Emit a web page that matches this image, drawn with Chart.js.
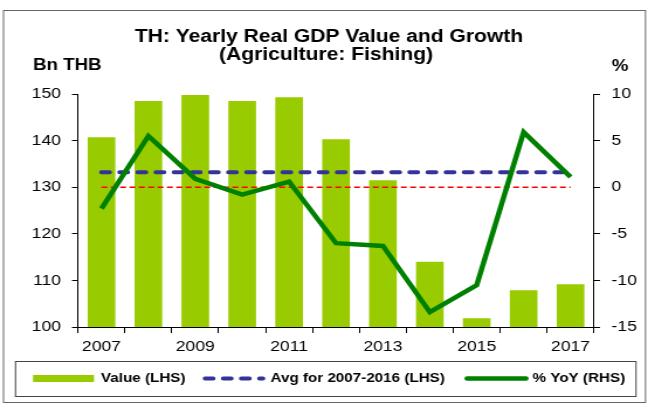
<!DOCTYPE html>
<html>
<head>
<meta charset="utf-8">
<script src="https://cdn.jsdelivr.net/npm/chart.js@4.4.1/dist/chart.umd.min.js"></script>
<style>
    html, body { margin: 0; padding: 0; background: #fff; }
    /* the source picture is stretched sideways, so the chart is drawn narrow and widened */
    #wrap { width: 554px; height: 403px; transform: scaleX(1.16968); transform-origin: 0 0; }
</style>
</head>
<body>
<div id="wrap"><canvas id="chart"></canvas></div>
<script>
const years = ['2007', '2008', '2009', '2010', '2011', '2012', '2013', '2014', '2015', '2016', '2017'];
const gdpValues = [140.7, 148.5, 149.8, 148.5, 149.3, 140.3, 131.5, 114.0, 101.9, 107.9, 109.2];
const avgValues = [133.2, 133.2, 133.2, 133.2, 133.2, 133.2, 133.2, 133.2, 133.2, 133.2, 133.2];
const yoyValues = [-2.3, 5.5, 0.9, -0.8, 0.6, -6.0, -6.3, -13.4, -10.5, 5.9, 1.1];
const zeroLine = [0, 0, 0, 0, 0, 0, 0, 0, 0, 0, 0];
const leftTicks = [100, 110, 120, 130, 140, 150];
const rightTicks = [-15, -10, -5, 0, 5, 10];

const S = 648 / 554;
const ux = x => x / S;
const FONT = '"Liberation Sans", Arial, sans-serif';

const decorations = {
    id: 'decorations',
    afterDraw(chart) {
        const ctx = chart.ctx;
        ctx.save();

        // outer frame
        ctx.strokeStyle = '#666';
        ctx.lineWidth = 1;
        ctx.strokeRect(ux(3.5), 10.5, ux(642), 392);

        // title
        ctx.fillStyle = '#000';
        ctx.textAlign = 'center';
        ctx.textBaseline = 'alphabetic';
        ctx.font = 'bold 18px ' + FONT;
        ctx.fillText('TH: Yearly Real GDP Value and Growth', ux(329), 41.5);
        ctx.fillText('(Agriculture: Fishing)', ux(326), 60);

        // axis units
        ctx.font = 'bold 16px ' + FONT;
        ctx.textAlign = 'left';
        ctx.fillText('Bn THB', ux(33), 70);
        ctx.textAlign = 'center';
        ctx.fillText('%', ux(620), 70.5);

        // legend box
        ctx.strokeStyle = '#444';
        ctx.strokeRect(ux(15.5), 361.5, ux(620.5), 35);

        const ly = 378.5;
        ctx.fillStyle = '#99cc00';
        ctx.fillRect(ux(33), ly - 3.5, ux(61), 7);

        ctx.lineWidth = 4;
        ctx.strokeStyle = '#333399';
        ctx.lineCap = 'round';
        ctx.setLineDash([7, 8.5]);
        ctx.beginPath();
        ctx.moveTo(ux(205), ly);
        ctx.lineTo(ux(263), ly);
        ctx.stroke();
        ctx.setLineDash([]);

        ctx.strokeStyle = '#008000';
        ctx.lineWidth = 4.5;
        ctx.beginPath();
        ctx.moveTo(ux(467), ly);
        ctx.lineTo(ux(526), ly);
        ctx.stroke();

        ctx.fillStyle = '#000';
        ctx.font = 'bold 13px ' + FONT;
        ctx.textAlign = 'left';
        ctx.textBaseline = 'middle';
        ctx.fillText('Value (LHS)', ux(101), ly);
        ctx.fillText('Avg for 2007-2016 (LHS)', ux(270.5), ly);
        ctx.fillText('% YoY (RHS)', ux(532.5), ly);

        ctx.restore();
    }
};

Chart.defaults.color = '#000';
Chart.defaults.font.family = FONT;

new Chart(document.getElementById('chart'), {
    type: 'bar',
    data: {
        labels: years,
        datasets: [
            {
                type: 'line',
                label: '% YoY (RHS)',
                data: yoyValues,
                yAxisID: 'y1',
                borderColor: '#008000',
                borderWidth: 4.5,
                borderJoinStyle: 'miter',
                pointRadius: 0,
                tension: 0,
                order: 1
            },
            {
                type: 'line',
                label: 'Avg for 2007-2016 (LHS)',
                data: avgValues,
                yAxisID: 'y',
                borderColor: '#333399',
                borderWidth: 4,
                borderDash: [7, 8.5],
                borderCapStyle: 'round',
                pointRadius: 0,
                order: 2
            },
            {
                type: 'line',
                label: 'Zero',
                data: zeroLine,
                yAxisID: 'y1',
                borderColor: '#ff0000',
                borderWidth: 1.5,
                borderDash: [5, 3],
                pointRadius: 0,
                order: 3
            },
            {
                label: 'Value (LHS)',
                data: gdpValues,
                yAxisID: 'y',
                backgroundColor: '#99cc00',
                barPercentage: 0.59,
                categoryPercentage: 1,
                order: 4
            }
        ]
    },
    options: {
        responsive: true,
        maintainAspectRatio: false,
        animation: false,
        layout: { padding: { top: 94, left: 0, right: 0, bottom: 0 } },
        plugins: {
            legend: { display: false },
            title: { display: false },
            tooltip: { enabled: false }
        },
        scales: {
            x: {
                offset: true,
                grid: { display: true, drawOnChartArea: false, drawTicks: true, tickLength: 6, color: '#000', offset: true },
                border: { display: true, color: '#000', width: 1 },
                ticks: {
                    autoSkip: false,
                    maxRotation: 0,
                    padding: 5,
                    font: { size: 15 },
                    callback: (v, i) => (i % 2 === 0 ? years[i] : '')
                },
                afterFit: s => { s.height = 76; }
            },
            y: {
                position: 'left',
                min: 100,
                max: 150,
                grid: { display: true, drawOnChartArea: false, drawTicks: true, tickLength: ux(6), color: '#000' },
                border: { display: true, color: '#000', width: 1 },
                ticks: { stepSize: 10, padding: ux(11), font: { size: 15 } },
                afterBuildTicks: s => { s.ticks = leftTicks.map(v => ({ value: v })); },
                afterFit: s => { s.width = ux(78); }
            },
            y1: {
                position: 'right',
                min: -15,
                max: 10,
                grid: { display: true, drawOnChartArea: false, drawTicks: true, tickLength: ux(6), color: '#000' },
                border: { display: true, color: '#000', width: 1 },
                ticks: { stepSize: 5, padding: ux(11.5), font: { size: 15 } },
                afterBuildTicks: s => { s.ticks = rightTicks.map(v => ({ value: v })); },
                afterFit: s => { s.width = 554 - ux(594); }
            }
        }
    },
    plugins: [decorations]
});
</script>
</body>
</html>
